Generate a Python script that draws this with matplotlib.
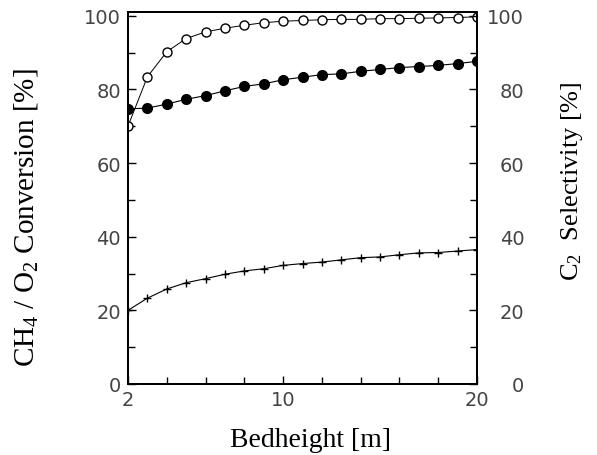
import numpy as np
import matplotlib.pyplot as plt
from matplotlib.ticker import MultipleLocator, FixedLocator

plt.rcParams['mathtext.fontset'] = 'custom'
plt.rcParams['mathtext.rm'] = 'Liberation Serif'
plt.rcParams['mathtext.it'] = 'Liberation Serif:italic'

bed = np.arange(2, 21)
o2_conv = [70, 83.4, 90.2, 93.8, 95.6, 96.6, 97.4, 98.1, 98.5, 98.7,
           98.9, 99.0, 99.0, 99.2, 99.2, 99.3, 99.4, 99.5, 99.7]
ch4_conv = [74.7, 74.9, 76.0, 77.3, 78.3, 79.6, 80.8, 81.5, 82.6, 83.3,
            84.0, 84.2, 84.9, 85.4, 85.9, 86.2, 86.5, 87.0, 87.6]
c2_sel = [20.0, 23.3, 25.8, 27.5, 28.6, 29.8, 30.7, 31.3, 32.2, 32.7,
          33.1, 33.7, 34.3, 34.5, 35.1, 35.6, 35.7, 36.1, 36.5]

fig = plt.figure(figsize=(5.97, 4.56), dpi=100)
ax = fig.add_axes([128 / 597, 1 - 385 / 456, (477 - 128) / 597, (385 - 13) / 456])

ax.plot(bed, o2_conv, color='black', lw=0.7, marker='o', ms=6.5,
        mfc='white', mec='black', mew=1.0)
ax.plot(bed, ch4_conv, color='black', lw=0.8, marker='o', ms=7,
        mfc='black', mec='black')
ax.plot(bed, c2_sel, color='black', lw=0.8, marker='+', ms=6, mew=1.0)

ax.set_xlim(2, 20)
ax.set_ylim(0, 101)
ax.xaxis.set_major_locator(FixedLocator([2, 10, 20]))
ax.xaxis.set_minor_locator(MultipleLocator(2))
ax.yaxis.set_major_locator(MultipleLocator(20))
ax.yaxis.set_minor_locator(MultipleLocator(10))

ax2 = ax.twinx()
ax2.set_ylim(0, 101)
ax2.yaxis.set_major_locator(MultipleLocator(20))
ax2.yaxis.set_minor_locator(MultipleLocator(10))

for a in (ax, ax2):
    for s in a.spines.values():
        s.set_linewidth(1.4)
    a.tick_params(which='both', direction='in', colors='black',
                  labelcolor='#444444', labelsize=14)
    a.tick_params(which='major', length=6, width=1)
    a.tick_params(which='minor', length=5, width=1)
ax.tick_params(axis='y', pad=5)
ax.tick_params(axis='x', pad=4)
ax2.tick_params(axis='y', pad=34)
for lab in ax2.get_yticklabels():
    lab.set_horizontalalignment('right')

label_font = {'family': 'Liberation Serif', 'size': 20}
ax.set_xlabel('Bedheight [m]', fontdict=label_font)
ax.set_ylabel(r'CH$_4$ / O$_2$ Conversion [%]', fontdict={'family': 'Liberation Serif', 'size': 21})
ax2.set_ylabel(r'C$_2$  Selectivity [%]', fontdict={'family': 'Liberation Serif', 'size': 19})

ax.xaxis.set_label_coords(0.524, -0.148)
ax.xaxis.label.set_va('center')
ax.yaxis.set_label_coords(-0.292, 0.45)
ax.yaxis.label.set_va('center')
ax2.yaxis.set_label_coords(1.272, 0.548)
ax2.yaxis.label.set_va('center')

fig.savefig('out.png', dpi=100)
